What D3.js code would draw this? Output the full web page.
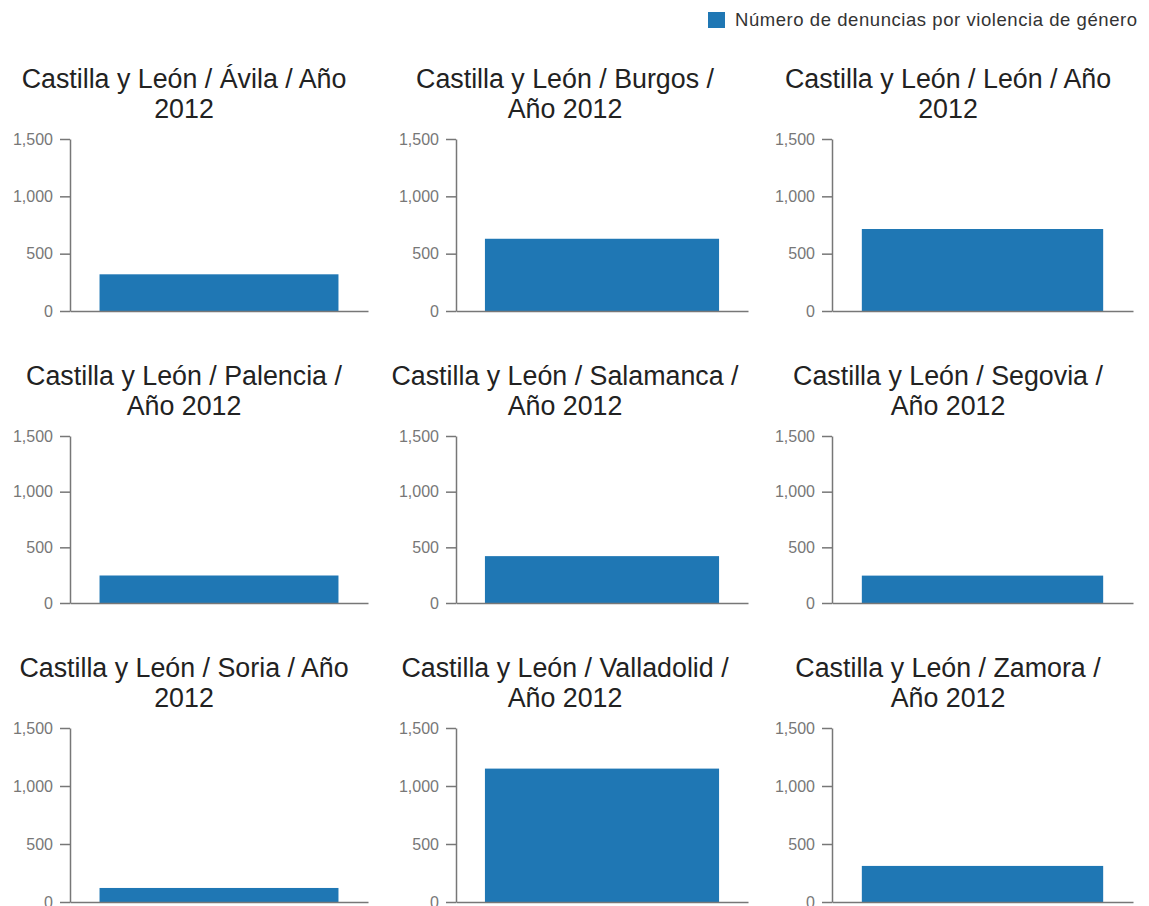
<!DOCTYPE html>
<html>
<head>
<meta charset="utf-8">
<script src="https://cdn.jsdelivr.net/npm/d3@7"></script>
<style>
  body { margin: 0; background: #fff; }
  svg { display: block; font-family: "Liberation Sans", Arial, sans-serif; }
  .axis path, .axis line { stroke: #777; stroke-width: 1.5px; }
  .axis text { fill: #777; font-size: 16px; }
  .title { fill: #222; font-size: 26.8px; }
  .legend text { fill: #333; font-size: 18.5px; letter-spacing: 0.56px; }
</style>
</head>
<body>
<div id="chart"></div>
<script>
// Número de denuncias por violencia de género, Castilla y León, año 2012
const provinces = ['Ávila', 'Burgos', 'León', 'Palencia', 'Salamanca', 'Segovia', 'Soria', 'Valladolid', 'Zamora'];
const denuncias = [320, 630, 715, 247, 421, 246, 121, 1150, 311];
const titleLines = [
  ['Castilla y León / Ávila / Año', '2012'],
  ['Castilla y León / Burgos /', 'Año 2012'],
  ['Castilla y León / León / Año', '2012'],
  ['Castilla y León / Palencia /', 'Año 2012'],
  ['Castilla y León / Salamanca /', 'Año 2012'],
  ['Castilla y León / Segovia /', 'Año 2012'],
  ['Castilla y León / Soria / Año', '2012'],
  ['Castilla y León / Valladolid /', 'Año 2012'],
  ['Castilla y León / Zamora /', 'Año 2012']
];
const yTicks = [0, 500, 1000, 1500];
const seriesName = 'Número de denuncias por violencia de género';
const barColor = '#1f77b4';

const width = 1149, height = 906;

// grid layout (pixels)
const colAxisX = [70, 456, 832];
const colRight = [368, 748, 1133];
const colTitleX = [184, 565, 948];
const rowTop = [139, 436, 728];
const rowBottom = [311, 603, 902];
const rowTitleY = [88, 385, 677];

const svg = d3.select('#chart').append('svg')
  .attr('width', width)
  .attr('height', height);

// legend
const legend = svg.append('g').attr('class', 'legend').attr('transform', 'translate(708,12)');
legend.append('rect').attr('width', 17).attr('height', 16).attr('fill', barColor);
legend.append('text').attr('x', 27).attr('y', 8).attr('dy', '0.35em').text(seriesName);

provinces.forEach((prov, i) => {
  const col = i % 3, row = Math.floor(i / 3);
  const x0 = colAxisX[col], x1 = colRight[col];
  const y0 = rowTop[row], y1 = rowBottom[row];

  const x = d3.scaleBand().domain([prov]).range([x0, x1]).padding(0.11);
  const y = d3.scaleLinear().domain([0, 1500]).range([y1, y0]);

  const g = svg.append('g').attr('class', 'panel');

  // title
  const title = g.append('text')
    .attr('class', 'title')
    .attr('text-anchor', 'middle')
    .attr('x', colTitleX[col])
    .attr('y', rowTitleY[row]);
  titleLines[i].forEach((line, k) => {
    title.append('tspan').attr('x', colTitleX[col]).attr('dy', k === 0 ? 0 : 30).text(line);
  });

  // bar
  g.append('rect')
    .attr('x', x(prov))
    .attr('width', x.bandwidth())
    .attr('y', y(denuncias[i]))
    .attr('height', y(0) - y(denuncias[i]))
    .attr('fill', barColor);

  // y axis
  g.append('g')
    .attr('class', 'axis')
    .attr('transform', `translate(${x0},0)`)
    .call(d3.axisLeft(y).tickValues(yTicks).tickFormat(d3.format(',')).tickSize(10).tickSizeOuter(0).tickPadding(7));

  // x axis line (no labels)
  g.append('g')
    .attr('class', 'axis')
    .attr('transform', `translate(0,${y1})`)
    .call(d3.axisBottom(x).tickSize(0).tickSizeOuter(0).tickFormat(''));
});
</script>
</body>
</html>
